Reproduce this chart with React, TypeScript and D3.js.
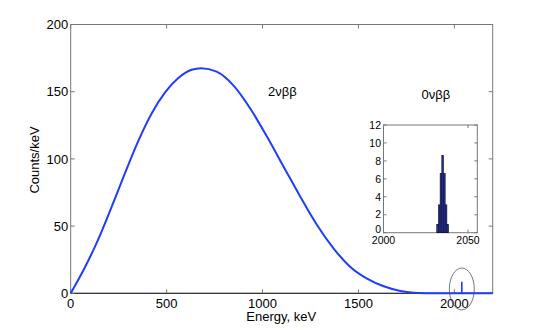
import React from "react";
import * as d3 from "d3";

// 2νββ spectrum (Counts/keV vs Energy, keV)
const energy = [0, 73, 143, 213, 282, 352, 422, 491, 561, 631, 680, 761, 848, 936, 1023, 1110, 1197, 1284, 1371, 1458, 1545, 1632, 1719, 1789, 1850, 1900, 1950, 2000, 2100, 2200];
const counts = [0, 19, 40, 64.2, 89, 113.2, 133.8, 149.3, 160.2, 166.3, 167.5, 164.9, 154.7, 137.5, 116.6, 94.2, 71.9, 50.8, 33.3, 19.6, 10.9, 5.2, 1.7, 0.4, 0.08, 0.02, 0, 0, 0, 0];

// 0νββ peak (inset histogram, 1 keV bins)
const binStart = [2031.5, 2032.5, 2033.5, 2034.5, 2035.5, 2036.5, 2037.5];
const binCounts = [0.9, 3.1, 6.6, 8.6, 6.6, 3.1, 0.9];
// 0νββ peak in main panel
const peakE = [2039];
const peakCounts = [8.6];

const xTicks = [0, 500, 1000, 1500, 2000];
const yTicks = [0, 50, 100, 150, 200];
const insetXTicks = [2000, 2050];
const insetYTicks = [0, 2, 4, 6, 8, 10, 12];
const labels = ["2νββ", "0νββ"];

const FONT = "'Liberation Sans', Arial, Helvetica, sans-serif";

export default function App() {
  const W = 545, H = 330;
  const L = 70.7, R = 492.7, T = 24.5, B = 293.3;
  const x = d3.scaleLinear().domain([0, 2200]).range([L, R]);
  const y = d3.scaleLinear().domain([0, 200]).range([B, T]);

  const iL = 383.5, iR = 477.3, iT = 125, iB = 232.7;
  const ix = d3.scaleLinear().domain([2000, 2055.5]).range([iL, iR]);
  const iy = d3.scaleLinear().domain([0, 12]).range([iB, iT]);

  const line = d3
    .line<number>()
    .x((_, i) => x(energy[i]))
    .y((_, i) => y(counts[i]))
    .curve(d3.curveMonotoneX);
  const pathD = line(counts) || "";

  const axisCol = "#777";
  const tl = 4;
  const blue = "#1f3cff";

  return (
    <svg width={W} height={H} style={{ position: "absolute", left: 0, top: 0, background: "#fff" }} fontFamily={FONT}>
      <rect x={0} y={0} width={W} height={H} fill="#fff" />
      {/* main box */}
      <rect x={L} y={T} width={R - L} height={B - T} fill="none" stroke={axisCol} strokeWidth={1} />
      <line x1={L} x2={R} y1={B} y2={B} stroke="#222" strokeWidth={1} />
      {xTicks.map((t) => (
        <g key={"xt" + t}>
          <line x1={x(t)} x2={x(t)} y1={B} y2={B - tl} stroke={axisCol} />
          <line x1={x(t)} x2={x(t)} y1={T} y2={T + tl} stroke={axisCol} />
          <text x={x(t)} y={307.5} fontSize={13} textAnchor="middle" fill="#000">{t}</text>
        </g>
      ))}
      {yTicks.map((t) => (
        <g key={"yt" + t}>
          <line x1={L} x2={L + tl} y1={y(t)} y2={y(t)} stroke={axisCol} />
          <line x1={R} x2={R - tl} y1={y(t)} y2={y(t)} stroke={axisCol} />
          <text x={L - 2.5} y={y(t) + 4.6} fontSize={13} textAnchor="end" fill="#000">{t}</text>
        </g>
      ))}
      <text x={281.3} y={321} fontSize={13} textAnchor="middle" fill="#000">Energy, keV</text>
      <text transform={`translate(38.5,160) rotate(-90)`} fontSize={13} textAnchor="middle" fill="#000">Counts/keV</text>

      {/* 2νββ curve */}
      <path d={pathD} fill="none" stroke={blue} strokeWidth={2} />
      {/* 0νββ spike */}
      {peakE.map((e, i) => (
        <line key={"pk" + i} x1={x(e)} x2={x(e)} y1={y(0)} y2={y(peakCounts[i])} stroke={blue} strokeWidth={1.6} />
      ))}
      <ellipse cx={x(2039)} cy={y(3.2)} rx={x(2039 + 65) - x(2039)} ry={y(0) - y(15.6)} fill="none" stroke="#555" strokeWidth={0.8} />

      <text x={268} y={95.5} fontSize={13} fill="#000">{labels[0]}</text>
      <text x={421.5} y={98.5} fontSize={13} fill="#000">{labels[1]}</text>

      {/* inset */}
      <rect x={iL} y={iT} width={iR - iL} height={iB - iT} fill="#fff" stroke={axisCol} strokeWidth={1} />
      {binStart.map((b, i) => (
        <rect key={"bin" + i} x={ix(b)} y={iy(binCounts[i])} width={ix(b + 1) - ix(b)} height={iy(0) - iy(binCounts[i])} fill="#25318f" stroke="#0b0b3a" strokeWidth={0.6} />
      ))}
      {insetXTicks.map((t) => (
        <g key={"ixt" + t}>
          <line x1={ix(t)} x2={ix(t)} y1={iB} y2={iB - 3} stroke={axisCol} />
          <line x1={ix(t)} x2={ix(t)} y1={iT} y2={iT + 3} stroke={axisCol} />
          <text x={ix(t)} y={244} fontSize={10.5} textAnchor="middle" fill="#000">{t}</text>
        </g>
      ))}
      {insetYTicks.map((t) => (
        <g key={"iyt" + t}>
          <line x1={iL} x2={iL + 3} y1={iy(t)} y2={iy(t)} stroke={axisCol} />
          <line x1={iR} x2={iR - 3} y1={iy(t)} y2={iy(t)} stroke={axisCol} />
          <text x={iL - 2.5} y={iy(t) + (t === 0 ? 0.5 : 3.7)} fontSize={10.5} textAnchor="end" fill="#000">{t}</text>
        </g>
      ))}
    </svg>
  );
}
